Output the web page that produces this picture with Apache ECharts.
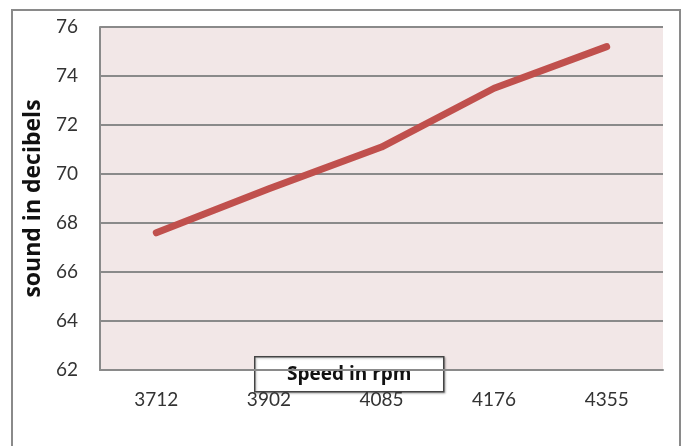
<!DOCTYPE html>
<html>
<head>
<meta charset="utf-8">
<script src="https://cdn.jsdelivr.net/npm/echarts@6/dist/echarts.min.js"></script>
<style>
  html, body { margin: 0; padding: 0; background: #ffffff; }
  #chart { width: 682px; height: 446px; }
</style>
</head>
<body>
<div id="chart"></div>
<script>
// Engine speed (rpm) and measured sound level (dB)
const speeds = ['3712', '3902', '4085', '4176', '4355'];
const soundLevels = [67.6, 69.4, 71.1, 73.5, 75.2];
const yTicks = { min: 62, max: 76, step: 2 };

const chart = echarts.init(document.getElementById('chart'));
const FONT = 'Lato, "Open Sans", sans-serif';
const BOLD_FONT = '"Open Sans", Lato, sans-serif';

chart.setOption({
  animation: false,
  backgroundColor: '#ffffff',
  grid: {
    left: 100, top: 27, width: 563, height: 343,
    show: true, backgroundColor: '#f2e7e7', borderWidth: 0
  },
  xAxis: {
    type: 'category',
    data: speeds,
    boundaryGap: true,
    axisLine: { lineStyle: { color: '#8a8a8a', width: 2 } },
    axisTick: { show: false },
    axisLabel: { color: '#333', fontFamily: FONT, fontSize: 19, margin: 20 }
  },
  yAxis: {
    type: 'value',
    min: yTicks.min, max: yTicks.max, interval: yTicks.step,
    name: 'sound in decibels',
    nameLocation: 'middle',
    nameGap: 54,
    nameTextStyle: { color: '#111', fontFamily: BOLD_FONT, fontSize: 23, fontWeight: 'bold' },
    axisLine: { show: true, lineStyle: { color: '#8a8a8a', width: 2 } },
    axisTick: { show: false },
    splitLine: { lineStyle: { color: '#8a8a8a', width: 2 } },
    axisLabel: { color: '#333', fontFamily: FONT, fontSize: 19, margin: 22 }
  },
  series: [{
    type: 'line',
    data: soundLevels,
    symbol: 'none',
    lineStyle: { color: '#c0504d', width: 7, cap: 'round', join: 'round' }
  }],
  graphic: [
    {
      // outer chart frame
      type: 'rect',
      shape: { x: 12, y: 10, width: 668, height: 450 },
      style: { fill: null, stroke: '#8a8a8a', lineWidth: 2 },
      silent: true
    },
    {
      // axis title box for the category axis
      type: 'group',
      left: 254, top: 356,
      children: [
        {
          type: 'rect',
          shape: { x: 0, y: 0, width: 189, height: 35 },
          style: { fill: '#ffffff', stroke: '#444', lineWidth: 1.5,
                   shadowColor: 'rgba(0,0,0,0.25)', shadowOffsetX: 1, shadowOffsetY: 1, shadowBlur: 2 }
        },
        {
          type: 'text',
          x: 94.5, y: 18,
          style: { text: 'Speed in rpm', fill: '#111',
                   fontFamily: BOLD_FONT, fontSize: 19, fontWeight: 'bold',
                   align: 'center', verticalAlign: 'middle' }
        }
      ]
    }
  ]
});
</script>
</body>
</html>
